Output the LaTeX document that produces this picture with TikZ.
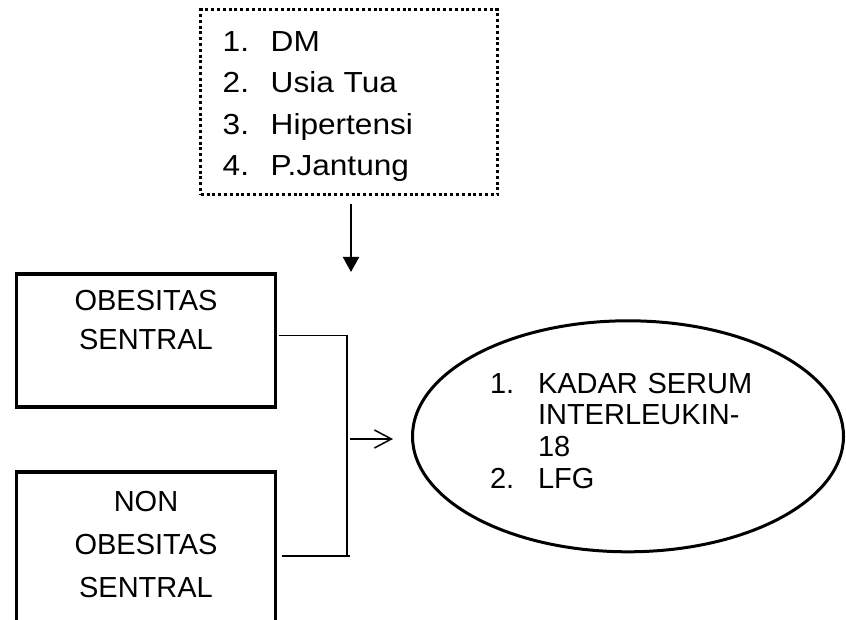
\documentclass[tikz,border=0pt]{standalone}
\usepackage{fontspec}
\setmainfont{Liberation Sans}
\newfontfamily\lebar[FakeStretch=1.09]{Liberation Sans}
\usetikzlibrary{shapes.geometric,arrows.meta}

% nomor daftar dengan lebar tetap
\newcommand{\nomor}[1]{\makebox[48pt][l]{#1}}

\begin{document}
\begin{tikzpicture}[x=1pt, y=-1pt, line join=miter,
    every node/.style={outer sep=0pt},
    font=\fontsize{29}{41.3}\selectfont,
    faktor/.style={draw, line width=3pt, dash pattern=on 3pt off 2.8pt,
      inner xsep=22pt, inner ysep=0pt, text width=253pt, align=left,
      text height=41.7pt, text depth=143.3pt, anchor=north},
    kotak/.style={draw, line width=3.3pt, inner sep=0pt, text width=259pt,
      align=center, anchor=north},
    hasil/.style={draw, ellipse, line width=3pt, inner sep=0pt,
      minimum width=431pt, minimum height=231pt, text width=276pt,
      align=left, text height=20pt, text depth=106.6pt},
    garis/.style={line width=1.3pt},
    panahbawah/.style={line width=2pt, -{Triangle[length=15pt,width=16pt]}},
    panahkanan/.style={line width=1.5pt, -{Straight Barb[length=17pt,width=18pt]}}]
  % batas gambar
  \useasboundingbox (0,0) rectangle (846,620);
  \clip (0,0) rectangle (846,620);

  % faktor risiko (kotak bertitik)
  \node[faktor, font=\lebar\fontsize{29}{41.3}\selectfont] (risiko) at (349.2,10)
    {\nomor{1.}DM\\ \nomor{2.}Usia Tua\\ \nomor{3.}Hipertensi\\ \nomor{4.}P.Jantung};

  % dua kelompok
  \node[kotak, text height=37pt, text depth=96pt,
    font=\fontsize{29}{39}\selectfont] (obes) at (146,274) {OBESITAS\\SENTRAL};
  \node[kotak, text height=39.7pt, text depth=128.3pt,
    font=\fontsize{29}{43}\selectfont] (non) at (146,472) {NON\\OBESITAS\\SENTRAL};

  % variabel hasil
  \node[hasil, font=\fontsize{29}{31.8}\selectfont] (lfg) at (628,436.3)
    {\nomor{1.}KADAR SERUM\\ \nomor{}INTERLEUKIN-\\ \nomor{}18\\ \nomor{2.}LFG};

  % titik bantu
  \coordinate (ujung) at (351,272);
  \coordinate (brAtas) at (347,335.3);
  \coordinate (brBawah) at (347,556);
  \coordinate (brTengah) at (350,439);
  \coordinate (panahAkhir) at (393,439);

  % panah dari faktor risiko
  \draw[panahbawah] (ujung |- risiko.south) ++(0,9) -- (ujung);

  % kurung penghubung
  \draw[garis] ([xshift=3pt,yshift=5.2pt]obes.east) -- (brAtas) -- (brBawah);
  \draw[garis] ([xshift=6pt]non.east) -- ([xshift=3pt]brBawah);
  \draw[panahkanan] (brTengah) -- (panahAkhir);
\end{tikzpicture}
\end{document}
